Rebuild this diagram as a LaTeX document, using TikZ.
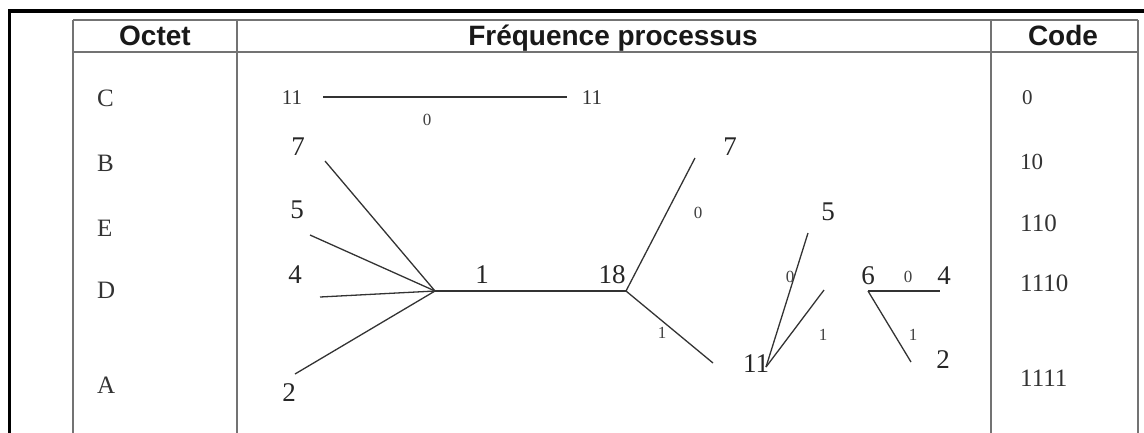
\documentclass[tikz,border=0pt]{standalone}
\usepackage{fontspec}
\setmainfont{Liberation Serif}
\newfontfamily\headfont{Liberation Sans}
\begin{document}
\begin{tikzpicture}[x=1pt,y=-1pt,
  hd/.style={font=\headfont\bfseries\fontsize{28}{30}\selectfont, anchor=base, inner sep=0pt, text=black!90},
  lt/.style={font=\fontsize{25}{28}\selectfont, anchor=west, inner sep=0pt, text=black!80},
  cd/.style={font=\fontsize{25}{28}\selectfont, anchor=west, inner sep=0pt, text=black!80},
  big/.style={font=\fontsize{27}{30}\selectfont, inner sep=0pt, text=black!85},
  mid/.style={font=\fontsize{21}{24}\selectfont, inner sep=0pt, text=black!80},
  sm/.style={font=\fontsize{17}{19}\selectfont, inner sep=0pt, text=black!75},
  edge/.style={draw=black!80, line width=1.3pt},
  grid/.style={draw=black!55, line width=1.3pt},
  frame/.style={draw=black, line width=3.2pt}]
\useasboundingbox (0,0) rectangle (1144,432);
% outer frame
\draw[frame] (9.5,440) -- (9.5,11) -- (1150,11);
% table
\draw[grid] (73,20) -- (1138,20);
\draw[grid] (73,52) -- (1138,52);
\foreach \x in {73,237,991,1138} \draw[grid] (\x,20) -- (\x,440);
% header
\node[hd] (hOctet) at (155,45) {Octet};
\node[hd] (hFreq) at (613,45) {Fréquence processus};
\node[hd] (hCode) at (1063,45) {Code};
% letters
\node[lt] (lC) at (97,98) {C};
\node[lt] (lB) at (97,163) {B};
\node[lt] (lE) at (97,228) {E};
\node[lt] (lD) at (97,290) {D};
\node[lt] (lA) at (97,385) {A};
% codes
\node[cd, font=\fontsize{21}{24}\selectfont] (k0) at (1022,98) {0};
\node[cd, font=\fontsize{23}{26}\selectfont] (k10) at (1020,162) {10};
\node[cd] (k110) at (1020,223) {110};
\node[cd] (k1110) at (1020,283) {1110};
\node[cd] (k1111) at (1020,378) {1111};
% top line C
\node[mid] (c11a) at (292,98) {11};
\node[mid] (c11b) at (592,98) {11};
\coordinate (t1) at (323,97);
\coordinate (t2) at (567,97);
\draw[edge] (t1) -- (t2);
\node[sm] (c0) at (427,120) {0};
% fan
\node[big] (n7) at (298,147) {7};
\node[big] (n5) at (297,210) {5};
\node[big] (n4) at (295,275) {4};
\node[big] (n2) at (289,393) {2};
\coordinate (f) at (435,291);
\coordinate (e7) at (325,161);
\coordinate (e5) at (310,235);
\coordinate (e4) at (320,297);
\coordinate (e2) at (295,374);
\draw[edge] (e7) -- (f);
\draw[edge] (e5) -- (f);
\draw[edge] (e4) -- (f);
\draw[edge] (e2) -- (f);
% main
\coordinate (j18) at (626,291);
\draw[edge] (f) -- (j18);
\node[big] (m1) at (482,275) {1};
\node[big] (n18) at (612,275) {18};
\coordinate (e7b) at (695,158);
\coordinate (e1) at (713,363);
\draw[edge] (j18) -- (e7b);
\draw[edge] (j18) -- (e1);
\node[big] (n7b) at (730,147) {7};
\node[sm] (l0a) at (698,213) {0};
\node[sm] (l1a) at (662,333) {1};
% 11 node
\node[big] (n11) at (756,364) {11};
\coordinate (j11) at (766,367);
\coordinate (e5b) at (808,233);
\coordinate (e11b) at (824,290);
\draw[edge] (j11) -- (e5b);
\draw[edge] (j11) -- (e11b);
\node[big] (n5b) at (828,212) {5};
\node[sm] (l0b) at (790,277) {0};
\node[sm] (l1b) at (823,335) {1};
% 6 node
\node[big] (n6) at (868,276) {6};
\node[sm] (l0c) at (908,277) {0};
\node[big] (n4b) at (944,276) {4};
\coordinate (j6) at (868,291);
\coordinate (e4b) at (940,291);
\coordinate (e2b) at (911,362);
\draw[edge] (j6) -- (e4b);
\draw[edge] (j6) -- (e2b);
\node[sm] (l1c) at (913,335) {1};
\node[big] (n2b) at (943,360) {2};
\end{tikzpicture}
\end{document}
